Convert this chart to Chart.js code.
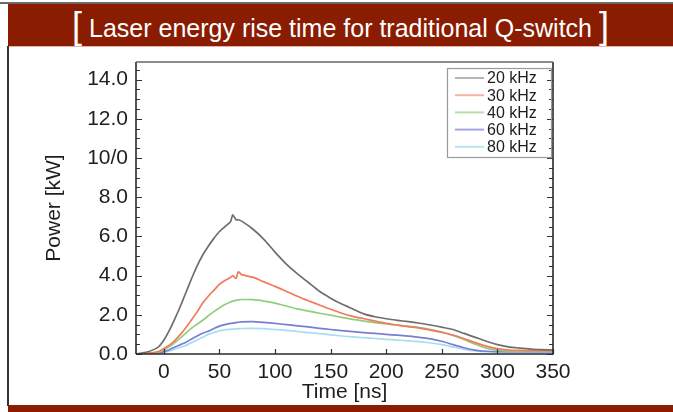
<!DOCTYPE html>
<html>
<head>
<meta charset="utf-8">
<script src="https://cdn.jsdelivr.net/npm/chart.js@4.4.1/dist/chart.umd.min.js"></script>
<style>
  html, body { margin:0; padding:0; background:#fff; }
  #wrap { position:relative; width:673px; height:412px; overflow:hidden; background:#fff; }
  .abs { position:absolute; }
  #band { left:8px; top:4px; width:665px; height:42px; background:#8a1c02; color:#fff;
          font-family:'Liberation Sans', Arial, sans-serif; font-size:25px; line-height:42px;
          text-align:center; white-space:nowrap; }
  #band .br { font-size:36px; font-weight:normal; position:relative; top:1px; }
  #chart { position:absolute; left:0; top:0; }
</style>
</head>
<body>
<div id="wrap">
  <div class="abs" style="left:0;top:2px;width:673px;height:2px;background:#6a6a6a"></div>
  <div id="band" class="abs"><span class="br">[</span> Laser energy rise time for traditional Q-switch <span class="br">]</span></div>
  <div class="abs" style="left:8px;top:46px;width:665px;height:1px;background:#e8b0a4"></div>
  <div class="abs" style="left:7px;top:46px;width:2px;height:360px;background:#333"></div>
  <div class="abs" style="left:8px;top:405px;width:665px;height:7px;background:#8a1c02"></div>
  <canvas id="chart" width="673" height="412"></canvas>
</div>
<script>
// ---- data ----
const timeNs = [-25,-15,-5,0,5,10,15,20,25,30,35,40,45,50,55,60,62,65,67,70,
  80,90,100,110,120,130,140,150,160,170,180,190,200,210,220,230,240,250,260,270,280,290,
  300,310,320,330,340,350];

const power20kHz = [0,0.1,0.35,0.7,1.2,1.8,2.45,3.15,3.85,4.5,5.05,5.5,5.9,6.25,6.5,6.75,7.1,6.85,6.85,6.78,
  6.38,5.85,5.2,4.6,4.1,3.65,3.2,2.85,2.55,2.3,2.05,1.9,1.8,1.72,1.65,1.57,1.48,1.37,1.25,1.05,0.85,0.65,
  0.48,0.36,0.3,0.25,0.22,0.2];
const power30kHz = [0,0.03,0.12,0.28,0.45,0.7,1.0,1.35,1.75,2.15,2.6,2.95,3.25,3.55,3.75,3.9,4.0,3.85,4.2,4.05,
  3.92,3.68,3.45,3.2,2.95,2.72,2.5,2.28,2.08,1.92,1.8,1.68,1.57,1.48,1.4,1.32,1.22,1.1,0.97,0.78,0.58,0.4,
  0.27,0.2,0.18,0.17,0.17,0.17];
const power40kHz = [0,0.02,0.08,0.2,0.38,0.58,0.82,1.08,1.32,1.52,1.72,1.95,2.16,2.35,2.52,2.65,2.7,2.74,2.76,2.78,
  2.77,2.7,2.6,2.45,2.3,2.19,2.08,1.98,1.87,1.77,1.68,1.6,1.53,1.47,1.41,1.35,1.25,1.12,0.95,0.74,0.5,0.3,
  0.19,0.15,0.15,0.15,0.15,0.15];
const power60kHz = [0,0.01,0.05,0.12,0.22,0.36,0.48,0.6,0.76,0.92,1.06,1.16,1.3,1.42,1.5,1.56,1.58,1.6,1.62,1.64,
  1.65,1.61,1.56,1.5,1.44,1.38,1.31,1.25,1.19,1.14,1.09,1.05,1.0,0.96,0.91,0.85,0.77,0.65,0.48,0.32,0.2,0.14,
  0.12,0.12,0.12,0.12,0.12,0.12];
const power80kHz = [0,0,0.03,0.08,0.15,0.25,0.34,0.44,0.58,0.72,0.86,1.0,1.1,1.18,1.23,1.26,1.27,1.28,1.29,1.3,
  1.31,1.29,1.25,1.21,1.15,1.09,1.04,0.98,0.92,0.87,0.83,0.79,0.75,0.71,0.67,0.63,0.56,0.48,0.36,0.24,0.16,0.12,
  0.11,0.1,0.1,0.1,0.1,0.1];

const seriesLabels = ['20 kHz','30 kHz','40 kHz','60 kHz','80 kHz'];
const seriesValues = [power20kHz, power30kHz, power40kHz, power60kHz, power80kHz];
const seriesColors = ['#6e6e6e','#f27a5c','#8fcf7c','#7a7ed2','#a6def0'];
const legendColors = ['#b4b4b4','#f7b4a4','#b4e0aa','#a4a6e2','#b6e6f2'];

const xTickValues = [0,50,100,150,200,250,300,350];
const yTickValues = [0,2,4,6,8,10,12,14];
const yTickLabels = ['0.0','2.0','4.0','6.0','8.0','10/0','12.0','14.0'];

const FONT = "'Liberation Sans', Arial, sans-serif";

const decorPlugin = {
  id: 'decor',
  afterDatasetsDraw(chart) {
    const {ctx, chartArea: a, scales: {x, y}} = chart;
    ctx.save();
    // inward tick marks
    ctx.strokeStyle = '#333';
    ctx.lineWidth = 1.2;
    for (let v = 0; v <= 14.75; v += 0.5) {
      const py = Math.round(y.getPixelForValue(v)) + 0.5;
      const len = (Math.abs(v % 2) < 1e-6) ? 6 : 4;
      ctx.beginPath();
      ctx.moveTo(a.left, py); ctx.lineTo(a.left + len, py);
      ctx.moveTo(a.right, py); ctx.lineTo(a.right - len, py);
      ctx.stroke();
    }
    xTickValues.forEach(v => {
      const px = Math.round(x.getPixelForValue(v)) + 0.5;
      ctx.beginPath();
      ctx.moveTo(px, a.bottom); ctx.lineTo(px, a.bottom - 5);
      ctx.stroke();
    });
    // frame
    ctx.lineWidth = 1.6;
    ctx.strokeStyle = '#2a2a2a';
    ctx.beginPath();
    ctx.moveTo(a.left, a.bottom); ctx.lineTo(a.right, a.bottom); ctx.lineTo(a.right, a.top);
    ctx.moveTo(a.left, a.top); ctx.lineTo(a.left, a.bottom);
    ctx.stroke();
    ctx.strokeStyle = '#666';
    ctx.lineWidth = 1.4;
    ctx.beginPath();
    ctx.moveTo(a.left, a.top); ctx.lineTo(a.right, a.top);
    ctx.stroke();

    // legend box
    const bx = 447, by = 68, bw = 104, bh = 89, rowH = 17.2;
    ctx.strokeStyle = '#9a9a9a';
    ctx.lineWidth = 1.2;
    ctx.strokeRect(bx + 0.5, by + 0.5, bw, bh);
    ctx.font = '16px ' + FONT;
    ctx.textBaseline = 'middle';
    ctx.textAlign = 'left';
    chart.data.datasets.forEach((ds, i) => {
      const cy = by + 10 + i * rowH;
      ctx.strokeStyle = legendColors[i];
      ctx.lineWidth = 2;
      ctx.beginPath();
      ctx.moveTo(bx + 8, cy); ctx.lineTo(bx + 37, cy);
      ctx.stroke();
      ctx.fillStyle = '#1e1e1e';
      ctx.fillText(ds.label, bx + 40, cy + 1);
    });
    ctx.restore();
  }
};

new Chart(document.getElementById('chart'), {
  type: 'line',
  data: {
    datasets: seriesLabels.map((lab, i) => ({
      label: lab,
      data: timeNs.map((t, k) => ({x: t, y: seriesValues[i][k]})),
      borderColor: seriesColors[i],
      borderWidth: 1.7,
      pointRadius: 0,
      tension: 0.2,
      fill: false
    })).reverse().reverse()
  },
  options: {
    responsive: false,
    animation: false,
    devicePixelRatio: 1,
    layout: { padding: { left: 0, top: 62, right: 120, bottom: 0 } },
    plugins: { legend: { display: false }, tooltip: { enabled: false } },
    scales: {
      x: {
        type: 'linear', min: -25, max: 350,
        afterBuildTicks: s => { s.ticks = xTickValues.map(v => ({value: v})); },
        afterFit: s => { s.height = 58; },
        grid: { display: false, drawTicks: false },
        border: { display: false },
        ticks: { font: { family: FONT, size: 21 }, color: '#1e1e1e', padding: 6, maxRotation: 0, autoSkip: false,
                 callback: v => String(v) },
        title: { display: true, text: 'Time [ns]', font: { family: FONT, size: 21 }, color: '#1e1e1e',
                 padding: { top: 0, bottom: 7 } }
      },
      y: {
        min: 0, max: 14.9,
        afterBuildTicks: s => { s.ticks = yTickValues.map(v => ({value: v})); },
        afterFit: s => { s.width = 136; },
        grid: { display: false, drawTicks: false },
        border: { display: false },
        ticks: { font: { family: FONT, size: 21 }, color: '#1e1e1e', padding: 8, autoSkip: false,
                 callback: (v, i) => yTickLabels[yTickValues.indexOf(v)] },
        title: { display: true, text: 'Power [kW]', font: { family: FONT, size: 21 }, color: '#1e1e1e',
                 padding: { top: 42, bottom: 0 } }
      }
    }
  },
  plugins: [decorPlugin]
});
</script>
</body>
</html>
